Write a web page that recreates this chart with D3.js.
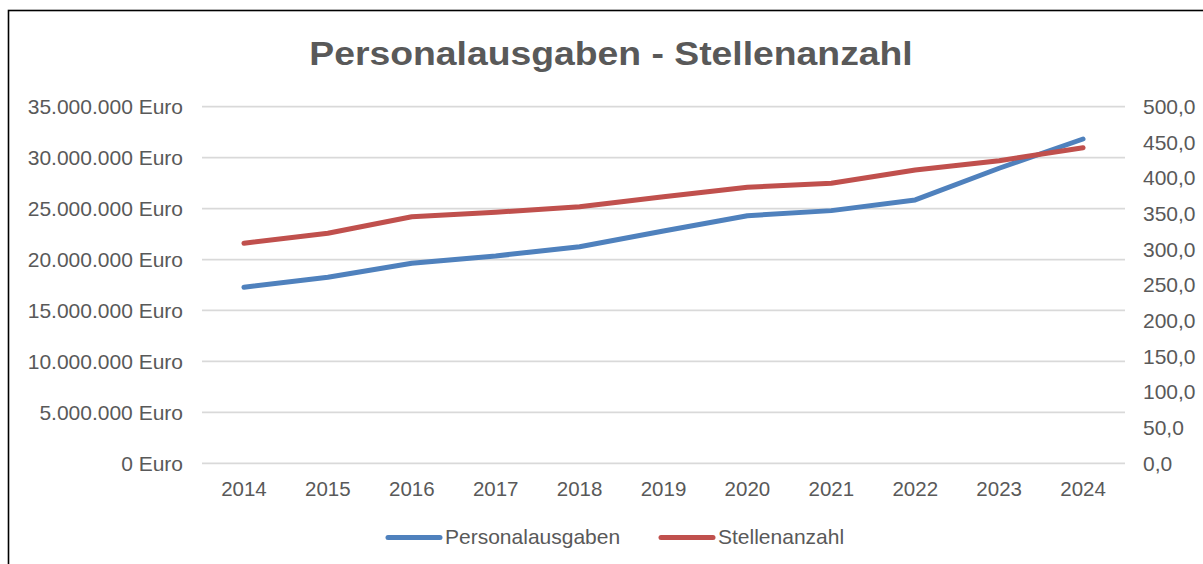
<!DOCTYPE html>
<html>
<head>
<meta charset="utf-8">
<script src="https://cdn.jsdelivr.net/npm/d3@7"></script>
<style>
  body { margin: 0; background: #fff; }
  text { font-family: 'Liberation Sans', Arial, sans-serif; }
</style>
</head>
<body>
<div id="chart"></div>
<script>
const years = ['2014', '2015', '2016', '2017', '2018', '2019', '2020', '2021', '2022', '2023', '2024'];
const personalausgaben = [17280000, 18260000, 19630000, 20350000, 21260000, 22800000, 24300000, 24800000, 25850000, 28960000, 31830000];
const stellenanzahl = [308.5, 322.5, 345.8, 351.9, 359.8, 373.8, 387.0, 392.6, 411.2, 424.3, 442.5];
const leftTicks = [0, 5000000, 10000000, 15000000, 20000000, 25000000, 30000000, 35000000];
const rightTicks = [0, 50, 100, 150, 200, 250, 300, 350, 400, 450, 500];

const W = 1203;
const H = 564;
const margin = { top: 106.7, right: 78, bottom: 100.7, left: 202 };
const width = W - margin.left - margin.right;
const height = H - margin.top - margin.bottom;

const svg = d3.select('#chart').append('svg').attr('width', W).attr('height', H);

// outer frame (runs off the right and bottom edge)
svg.append('rect')
  .attr('x', 8.5).attr('y', 10.5)
  .attr('width', 1300).attr('height', 700)
  .attr('fill', 'none').attr('stroke', '#000').attr('stroke-width', 1.6);

// title (slightly stretched like the original export)
svg.append('text')
  .attr('transform', 'translate(611,65) scale(1.098,1)')
  .attr('text-anchor', 'middle')
  .attr('fill', '#595959')
  .style('font-size', '34px').style('font-weight', 'bold')
  .text('Personalausgaben - Stellenanzahl');

const g = svg.append('g').attr('transform', `translate(${margin.left},${margin.top})`);

const x = d3.scaleBand().domain(years).range([0, width]);
const yL = d3.scaleLinear().domain([0, 35000000]).range([height, 0]);
const yR = d3.scaleLinear().domain([0, 500]).range([height, 0]);

const de = d3.formatLocale({ decimal: ',', thousands: '.', grouping: [3], currency: ['', ''] });
const fmtEuro = (d) => de.format(',.0f')(d) + ' Euro';
const fmtNum = (d) => de.format(',.1f')(d);

// grid
g.append('g')
  .selectAll('line')
  .data(leftTicks)
  .join('line')
  .attr('x1', 0).attr('x2', width)
  .attr('y1', (d) => yL(d)).attr('y2', (d) => yL(d))
  .attr('stroke', '#d9d9d9').attr('stroke-width', 1.8);

// left axis
const axL = g.append('g').call(d3.axisLeft(yL).tickValues(leftTicks).tickFormat(fmtEuro).tickSize(0).tickPadding(19));
axL.select('.domain').remove();
axL.selectAll('text').attr('fill', '#595959').style('font-size', '21px').attr('font-family', null);

// right axis
const axR = g.append('g').attr('transform', `translate(${width},0)`)
  .call(d3.axisRight(yR).tickValues(rightTicks).tickFormat(fmtNum).tickSize(0).tickPadding(18));
axR.select('.domain').remove();
axR.selectAll('text').attr('fill', '#595959').style('font-size', '21px').attr('font-family', null);

// bottom axis
const axB = g.append('g').attr('transform', `translate(0,${height})`)
  .call(d3.axisBottom(x).tickSize(0).tickPadding(18));
axB.select('.domain').remove();
axB.selectAll('text').attr('fill', '#595959').style('font-size', '20.5px').attr('font-family', null);

const cx = (d, i) => x(years[i]) + x.bandwidth() / 2;

g.append('path')
  .datum(personalausgaben)
  .attr('fill', 'none').attr('stroke', '#4f81bd').attr('stroke-width', 5)
  .attr('stroke-linecap', 'round').attr('stroke-linejoin', 'round')
  .attr('d', d3.line().x(cx).y((d) => yL(d)));

g.append('path')
  .datum(stellenanzahl)
  .attr('fill', 'none').attr('stroke', '#c0504d').attr('stroke-width', 5)
  .attr('stroke-linecap', 'round').attr('stroke-linejoin', 'round')
  .attr('d', d3.line().x(cx).y((d) => yR(d)));

// legend
const legend = [
  { name: 'Personalausgaben', color: '#4f81bd', x: 388 },
  { name: 'Stellenanzahl', color: '#c0504d', x: 661 },
];
const lg = svg.append('g').selectAll('g').data(legend).join('g')
  .attr('transform', (d) => `translate(${d.x},537.5)`);
lg.append('line')
  .attr('x1', 0).attr('x2', 52)
  .attr('stroke', (d) => d.color).attr('stroke-width', 5).attr('stroke-linecap', 'round');
lg.append('text')
  .attr('x', 57).attr('y', 6)
  .attr('fill', '#595959').style('font-size', '21px')
  .text((d) => d.name);
</script>
</body>
</html>
